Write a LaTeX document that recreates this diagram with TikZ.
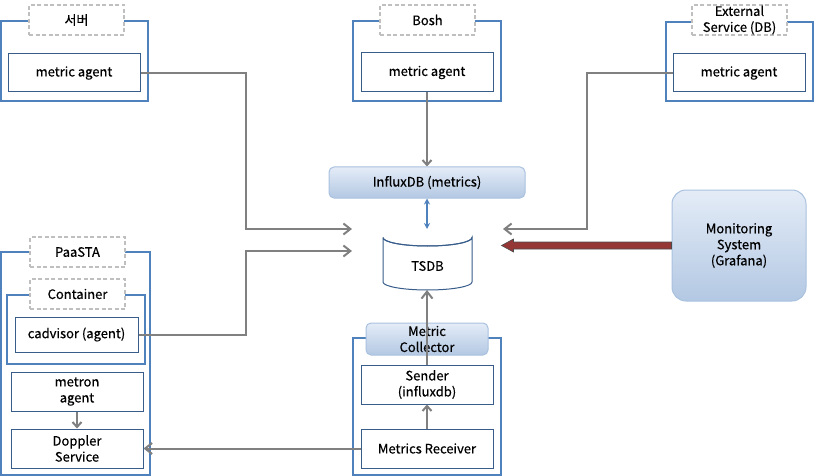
\documentclass[tikz,border=0pt]{standalone}
\usepackage{fontspec}
\setmainfont{Noto Sans CJK KR}[FakeBold=0.5]
\usetikzlibrary{arrows.meta,calc}
\definecolor{bord}{HTML}{4F81BD}
\definecolor{inb}{HTML}{385D8A}
\definecolor{dgray}{HTML}{BFBFBF}
\definecolor{agray}{HTML}{808080}
\definecolor{gtop}{HTML}{E4ECF7}
\definecolor{gbot}{HTML}{B3C8E3}
\definecolor{gbord}{HTML}{A9C1DF}
\definecolor{redar}{HTML}{953735}
\begin{document}
\begin{tikzpicture}[x=1pt,y=-1pt,
  every node/.style={font=\fontsize{13}{16}\selectfont, align=center, inner sep=0pt},
  outer/.style={draw=bord, line width=2pt, fill=white},
  dlabel/.style={draw=dgray, dashed, dash pattern=on 4pt off 2.5pt, line width=1.6pt, fill=white},
  inbox/.style={draw=inb, line width=1pt, fill=white},
  grad/.style={draw=gbord, line width=1pt, top color=gtop, bottom color=gbot},
  conn/.style={draw=agray, line width=2pt, -{Straight Barb[length=7pt,width=11pt,line width=2pt]}},
  sconn/.style={draw=agray, line width=2pt, -{Straight Barb[length=5pt,width=9pt,line width=2pt]}}
]
\useasboundingbox (0,0) rectangle (814,476);
% Server
\node[outer, minimum width=147pt, minimum height=80pt] (sv) at (74.5,61) {};
\node[dlabel, minimum width=95pt, minimum height=30pt] (svl) at (76.5,20) {서버};
\node[inbox, minimum width=132pt, minimum height=38pt] (sa) at (74,73) {metric agent};
% Bosh
\node[outer, minimum width=148pt, minimum height=80pt] (bo) at (427,61) {};
\node[dlabel, minimum width=95pt, minimum height=30pt] (bol) at (427.5,20) {Bosh};
\node[inbox, minimum width=132pt, minimum height=39pt] (ba) at (427,72.5) {metric agent};
% External
\node[outer, minimum width=147pt, minimum height=79pt] (ex) at (739,61.5) {};
\node[dlabel, minimum width=95pt, minimum height=30pt] (exl) at (739.5,20) {External\\Service (DB)};
\node[inbox, minimum width=132pt, minimum height=38pt] (ea) at (739,73) {metric agent};
% InfluxDB
\node[grad, rounded corners=5pt, minimum width=196pt, minimum height=31pt] (infl) at (427,182.5) {InfluxDB (metrics)};
% TSDB cylinder
\node[minimum width=89pt, minimum height=61pt] (tsdb) at (427.5,259.5) {};
\draw[inb, line width=1pt, fill=white] (383,237.5) -- (383,282) arc[start angle=180, end angle=360, x radius=44.5pt, y radius=8pt] -- (472,237.5) arc[start angle=0, end angle=-180, x radius=44.5pt, y radius=8.5pt];
\draw[inb, line width=1pt] (383,237.5) arc[start angle=180, end angle=360, x radius=44.5pt, y radius=8.5pt];
\node at (427.5,266) {TSDB};
% Monitoring
\node[grad, rounded corners=14pt, minimum width=134pt, minimum height=111pt] (mon) at (739,245.5) {Monitoring\\System\\(Grafana)};
% PaaSTA
\node[outer, minimum width=149pt, minimum height=223pt] (pa) at (75.5,363.5) {};
\node[dlabel, minimum width=95pt, minimum height=30pt] (pal) at (77.5,252) {PaaSTA};
\node[outer, minimum width=138pt, minimum height=69pt] (co) at (76,329.5) {};
\node[dlabel, minimum width=95pt, minimum height=30pt] (col) at (77.5,294) {Container};
\node[inbox, minimum width=123pt, minimum height=35pt] (cad) at (76.5,334.5) {cadvisor (agent)};
\node[inbox, minimum width=132pt, minimum height=39pt] (met) at (77,391.5) {metron\\agent};
\node[inbox, minimum width=132pt, minimum height=39pt] (dop) at (77,448.5) {Doppler\\Service};
% Metric collector
\node[outer, minimum width=148pt, minimum height=137pt] (mc) at (427,406.5) {};
\node[grad, rounded corners=5pt, minimum width=122pt, minimum height=32pt] (mcl) at (427,339) {Metric\\Collector};
\node[inbox, minimum width=132pt, minimum height=39pt] (snd) at (427,384.5) {Sender\\(influxdb)};
\node[inbox, minimum width=132pt, minimum height=39pt] (rcv) at (427,448.5) {Metrics Receiver};
% connector end points
\coordinate (inA) at (352,229);
\coordinate (inB) at (352,251);
\coordinate (inC) at (503,229);
\coordinate (jA) at (246,229);
\coordinate (jB) at (246,251);
\coordinate (jC) at (587,229);
\coordinate (tstop) at (427,229);
\coordinate (tsbot) at (427,290);
% connectors
\draw[conn] (sa.east) -| (jA) -- (inA);
\draw[conn] (cad.east) -| (jB) -- (inB);
\draw[conn] (ea.west) -| (jC) -- (inC);
\draw[sconn] (ba.south) -- (infl.north);
\draw[draw=bord, line width=1.3pt, {Stealth[length=6pt,width=6pt]}-{Stealth[length=6pt,width=6pt]}] (infl.south) -- (tstop);
\draw[conn] (snd.north) -- (tsbot);
\draw[sconn] (rcv.north) -- (snd.south);
\draw[sconn] (met.south) -- (dop.north);
\draw[conn] (rcv.west) -- (dop.east);
% red arrow
\draw[fill=redar, draw=black!70, line width=0.6pt] (mon.west) ++(0,-3.5) -- ++(-158,0) -- ++(0,-3) -- ($(mon.west)+(-170,0)$) -- ++(12,6.5) -- ++(0,-3) -- ($(mon.west)+(0,3.5)$) -- cycle;
\end{tikzpicture}
\end{document}
